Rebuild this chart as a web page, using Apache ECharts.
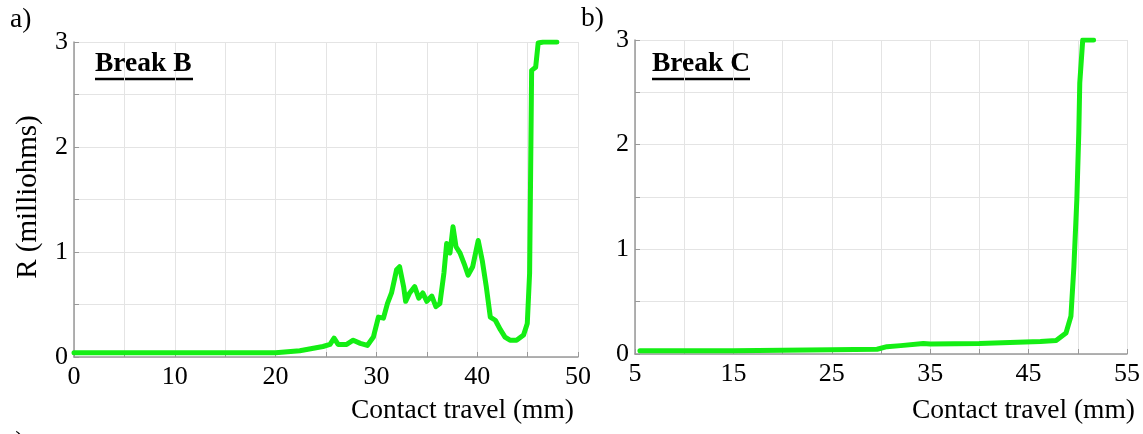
<!DOCTYPE html>
<html>
<head>
<meta charset="utf-8">
<script src="https://cdn.jsdelivr.net/npm/echarts@6/dist/echarts.min.js"></script>
<style>
  html, body { margin: 0; padding: 0; background: #fff; }
  #chart { width: 1143px; height: 434px; }
</style>
</head>
<body>
<div id="chart"></div>
<script>
// Break B (left panel): contact travel (mm) vs R (milliohms)
var travelB = [0, 5, 10, 15, 20, 22.4, 24.7, 25.4, 25.8, 26.2, 27.05, 27.7, 28.4, 29.1, 29.7,
    30.2, 30.7, 31.1, 31.5, 32.0, 32.3, 32.7, 32.9, 33.3, 33.8, 34.2, 34.6, 35.0, 35.5, 35.9,
    36.3, 36.7, 36.97, 37.3, 37.6, 37.9, 38.3, 38.7, 39.1, 39.55, 40.1, 40.5, 40.9, 41.3, 41.8,
    42.3, 42.76, 43.25, 43.9, 44.6, 44.97, 45.2, 45.3, 45.4, 45.8, 46.05, 46.55, 47.9];
var resB = [0.04, 0.04, 0.04, 0.04, 0.04, 0.06, 0.10, 0.12, 0.18, 0.12, 0.12, 0.16, 0.13, 0.11, 0.19,
    0.38, 0.37, 0.51, 0.61, 0.83, 0.86, 0.67, 0.53, 0.61, 0.67, 0.56, 0.61, 0.53, 0.58, 0.48,
    0.51, 0.80, 1.08, 0.99, 1.24, 1.05, 0.99, 0.89, 0.78, 0.86, 1.11, 0.92, 0.67, 0.38, 0.35,
    0.26, 0.19, 0.16, 0.16, 0.21, 0.32, 0.80, 1.75, 2.73, 2.76, 2.99, 3.0, 3.0];

// Break C (right panel)
var travelC = [5.5, 10, 15, 20, 25, 29.6, 30.6, 32, 34.3, 35, 40, 46.2, 47.8, 48.8, 49.3,
    49.6, 49.9, 50.1, 50.2, 50.5, 51.6];
var resC = [0.03, 0.03, 0.03, 0.035, 0.04, 0.045, 0.07, 0.08, 0.10, 0.095, 0.10, 0.12, 0.13, 0.20, 0.36,
    0.83, 1.47, 2.11, 2.59, 3.0, 3.0];

var xTicksB = [0, 50, 5];   // min, max, step
var xTicksC = [5, 55, 5];
var yTicks = [0, 3, 0.5];

function pairs(xs, ys) {
    var out = [];
    for (var i = 0; i < xs.length; i++) out.push([xs[i], ys[i]]);
    return out;
}

var FONT = 'Liberation Serif';
var green = '#14ee14';
var gridColor = '#e4e4e4';
var axisColor = '#999';

function xAxisOpt(gridIndex, ticks, showFn) {
    return {
        type: 'value', gridIndex: gridIndex,
        min: ticks[0], max: ticks[1], interval: ticks[2],
        axisLine: { show: true, onZero: false, lineStyle: { color: axisColor, width: 1.5 } },
        axisTick: { show: true, inside: true, length: 5, lineStyle: { color: axisColor } },
        splitLine: { show: true, lineStyle: { color: gridColor, width: 1 } },
        axisLabel: {
            color: '#000', fontFamily: FONT, fontSize: 26, margin: 7,
            formatter: function (v) { return showFn(v) ? String(v) : ''; }
        }
    };
}

function yAxisOpt(gridIndex) {
    return {
        type: 'value', gridIndex: gridIndex,
        min: yTicks[0], max: yTicks[1], interval: yTicks[2],
        axisLine: { show: true, lineStyle: { color: axisColor, width: 1.5 } },
        axisTick: { show: true, inside: true, length: 5, lineStyle: { color: axisColor } },
        splitLine: { show: true, lineStyle: { color: gridColor, width: 1 } },
        axisLabel: {
            color: '#000', fontFamily: FONT, fontSize: 26, margin: 6,
            formatter: function (v) { return v % 1 === 0 ? String(v) : ''; }
        }
    };
}

function lineSeries(idx, data) {
    return {
        type: 'line', xAxisIndex: idx, yAxisIndex: idx,
        data: data, showSymbol: false, symbol: 'none', smooth: false,
        lineStyle: { color: green, width: 5, join: 'round', cap: 'round' },
        animation: false
    };
}

var textStyle = { fill: '#000', fontFamily: FONT, fontSize: 27.5 };
function txt(x, y, s, extra) {
    var st = Object.assign({}, textStyle, { x: x, y: y, text: s, textVerticalAlign: 'middle' }, extra || {});
    return { type: 'text', style: st, z: 100 };
}

var chart = echarts.init(document.getElementById('chart'));
chart.setOption({
    animation: false,
    grid: [
        { left: 74, right: 565, top: 42, bottom: 77 },
        { left: 635, right: 3, top: 40, bottom: 80 }
    ],
    xAxis: [
        xAxisOpt(0, xTicksB, function (v) { return v % 10 === 0; }),
        xAxisOpt(1, xTicksC, function (v) { return v % 10 === 5; })
    ],
    yAxis: [yAxisOpt(0), yAxisOpt(1)],
    series: [
        lineSeries(0, pairs(travelB, resB)),
        lineSeries(1, pairs(travelC, resC))
    ],
    graphic: [
        txt(10, 20, 'a)'),
        txt(581, 19, 'b)'),
        txt(95, 64, 'Break B', { fontWeight: 'bold' }),
        { type: 'line', shape: { x1: 95, y1: 79, x2: 193, y2: 79 }, style: { stroke: '#000', lineWidth: 2.5 } },
        txt(652, 64, 'Break C', { fontWeight: 'bold' }),
        { type: 'line', shape: { x1: 652, y1: 79, x2: 750, y2: 79 }, style: { stroke: '#000', lineWidth: 2.5 } },
        txt(574, 411, 'Contact travel (mm)', { textAlign: 'right' }),
        txt(1135, 411, 'Contact travel (mm)', { textAlign: 'right' }),
        { type: 'text', x: 28, y: 197, rotation: Math.PI / 2,
          style: Object.assign({}, textStyle, { fontSize: 29, text: 'R (milliohms)', textAlign: 'center', textVerticalAlign: 'middle' }) },
        txt(3, 443, 'c)')
    ]
});
</script>
</body>
</html>
